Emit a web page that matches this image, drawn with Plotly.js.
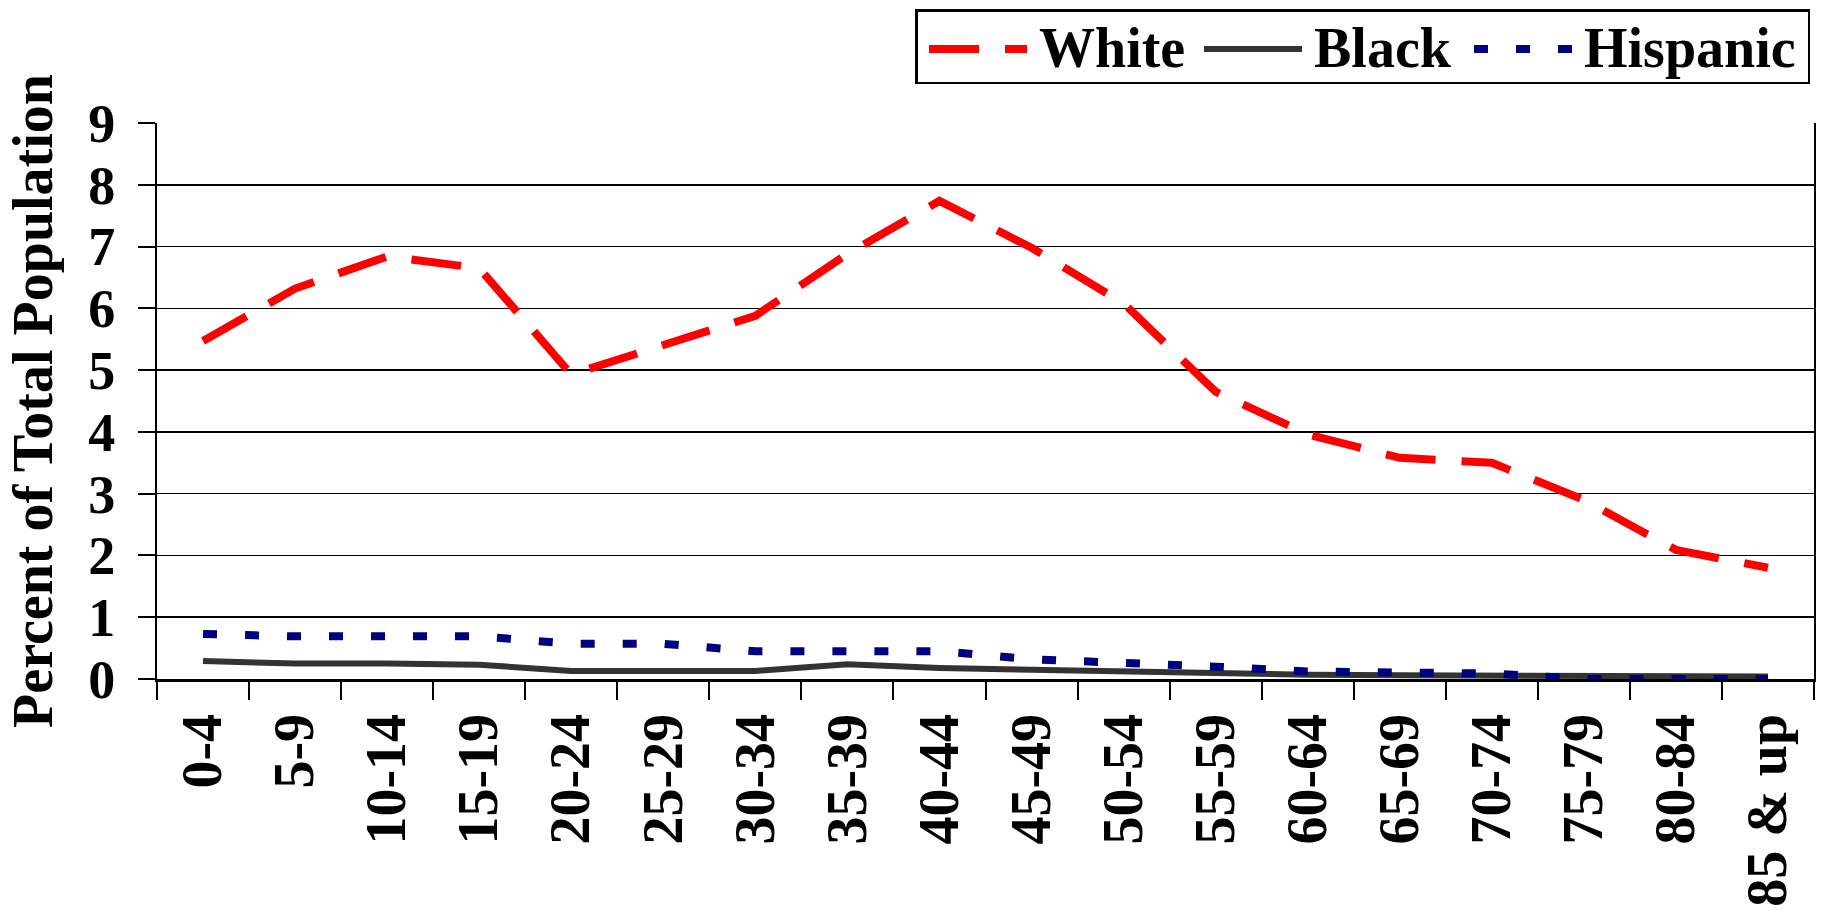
<!DOCTYPE html>
<html>
<head>
<meta charset="utf-8">
<script src="https://cdn.plot.ly/plotly-3.0.1.min.js"></script>
<style>
  html, body { margin: 0; padding: 0; background: #ffffff; }
  #chart { width: 1823px; height: 913px; }
</style>
</head>
<body>
<div id="chart"></div>
<script>
const ageGroups = ["0-4", "5-9", "10-14", "15-19", "20-24", "25-29", "30-34", "35-39", "40-44",
                   "45-49", "50-54", "55-59", "60-64", "65-69", "70-74", "75-79", "80-84", "85 & up"];
const white    = [5.47, 6.32, 6.84, 6.65, 4.93, 5.40, 5.88, 6.88, 7.74, 6.98, 6.08, 4.65, 3.96, 3.58, 3.50, 2.90, 2.09, 1.80];
const black    = [0.29, 0.25, 0.25, 0.23, 0.13, 0.13, 0.13, 0.24, 0.18, 0.15, 0.12, 0.08, 0.07, 0.06, 0.06, 0.05, 0.05, 0.04];
const hispanic = [0.73, 0.69, 0.69, 0.69, 0.57, 0.57, 0.45, 0.45, 0.45, 0.32, 0.27, 0.20, 0.12, 0.12, 0.09, 0.00, 0.00, 0.00];
const yTicks = [0, 1, 2, 3, 4, 5, 6, 7, 8, 9];

const FONT = '"Liberation Serif", "Times New Roman", Times, serif';

const traces = [
  { x: ageGroups, y: white, name: "White", type: "scatter", mode: "lines",
    line: { color: "#ff0000", width: 8, dash: "50px,26px" } },
  { x: ageGroups, y: black, name: "Black", type: "scatter", mode: "lines",
    line: { color: "#333333", width: 6 } },
  { x: ageGroups, y: hispanic, name: "Hispanic", type: "scatter", mode: "lines",
    line: { color: "#000080", width: 8, dash: "14px,28px" } }
];

const layout = {
  width: 1823, height: 913,
  paper_bgcolor: "#ffffff", plot_bgcolor: "#ffffff",
  margin: { l: 157, r: 9, t: 123, b: 234, pad: 0 },
  font: { family: FONT, color: "#000000", size: 56, weight: "bold" },
  showlegend: true,
  legend: {
    orientation: "h",
    x: 0.9976, xanchor: "right",
    y: 1.205, yanchor: "top",
    bordercolor: "#000000", borderwidth: 2.5, bgcolor: "#ffffff",
    font: { family: FONT, size: 56, color: "#000000", weight: "bold" },
    itemwidth: 100,
    traceorder: "normal"
  },
  xaxis: {
    type: "category",
    range: [-0.5, 17.5],
    tickson: "boundaries",
    ticks: "outside", ticklen: 18, tickwidth: 2, tickcolor: "#000000",
    tickangle: -90,
    ticklabelstandoff: 10,
    tickfont: { family: FONT, size: 56, color: "#000000", weight: "bold" },
    showline: true, linecolor: "#000000", linewidth: 2.5,
    showgrid: false, zeroline: false, fixedrange: true, automargin: false
  },
  yaxis: {
    range: [0, 9],
    tickvals: yTicks,
    ticktext: yTicks.map(String),
    ticks: "outside", ticklen: 17, tickwidth: 2, tickcolor: "#000000",
    ticklabelstandoff: 12,
    tickfont: { family: FONT, size: 54, color: "#000000", weight: "bold" },
    showline: true, mirror: true, linecolor: "#000000", linewidth: 2,
    showgrid: true, gridcolor: "#000000", gridwidth: 1.5,
    zeroline: false, fixedrange: true, automargin: false,
    title: { text: "Percent of Total Population", standoff: 18,
             font: { family: FONT, size: 56, color: "#000000", weight: "bold" } }
  }
};

function parseTranslate(el) {
  const t = el.getAttribute("transform") || "";
  const m = /translate\(\s*([-\d.eE]+)[\s,]+([-\d.eE]+)\s*\)/.exec(t);
  return m ? [parseFloat(m[1]), parseFloat(m[2])] : [0, 0];
}

// Reshape the legend box and entries to match the reference legend geometry.
function fixLegend() {
  const leg = document.querySelector("#chart .legend");
  if (!leg) return;
  const bw = 2.5;
  const boxLeft = 915, boxTop = 9, boxW = 895, boxH = 75;
  const lineY = 49;
  const sampleStarts = [929, 1204, 1474];

  const bg = leg.querySelector("rect.bg");
  const r = bg.getBoundingClientRect();
  let [tx, ty] = parseTranslate(leg);
  tx += (boxLeft + bw / 2) - r.left;
  ty += (boxTop + bw / 2) - r.top;
  leg.setAttribute("transform", "translate(" + tx + "," + ty + ")");
  bg.setAttribute("width", boxW - bw);
  bg.setAttribute("height", boxH - bw);
  leg.querySelectorAll("[clip-path]").forEach(function (e) { e.removeAttribute("clip-path"); });

  leg.querySelectorAll("g.traces").forEach(function (g, i) {
    g.querySelectorAll(".legendlines path").forEach(function (p) { p.setAttribute("d", "M5,0h98"); });
    const p = g.querySelector(".legendlines path");
    if (!p) return;
    const pr = p.getBoundingClientRect();
    let [gx, gy] = parseTranslate(g);
    gx += sampleStarts[i] - pr.left;
    gy += lineY - (pr.top + pr.height / 2);
    g.setAttribute("transform", "translate(" + gx + "," + gy + ")");
    const txt = g.querySelector("text.legendtext");
    if (txt) {
      const x0 = parseFloat(txt.getAttribute("x") || "0");
      const y0 = parseFloat(txt.getAttribute("y") || "0");
      txt.setAttribute("x", x0 + 5);
      txt.setAttribute("y", y0 - 4);
    }
  });
}

Plotly.newPlot("chart", traces, layout, { displayModeBar: false, staticPlot: true }).then(fixLegend);
</script>
</body>
</html>
